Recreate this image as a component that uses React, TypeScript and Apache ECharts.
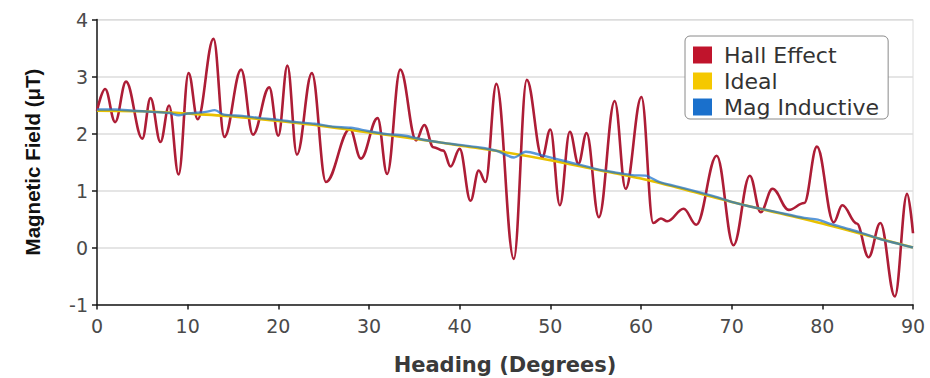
import React, { useEffect, useRef } from "react";
import * as echarts from "echarts";

const hallX = [0, 0.9, 2.0, 3.2, 5.0, 5.9, 7.0, 7.95, 9.0, 10.1, 11.1, 12.85, 14.05, 15.9, 17.2, 19.0, 20.0, 21.0, 22.05, 23.7, 25.25, 27.9, 29.1, 30.95, 32.0, 33.45, 35.2, 36.1, 37.1, 38.2, 39.0, 40.0, 41.2, 42.1, 42.85, 44.05, 45.97, 47.4, 49.1, 50.0, 51.05, 52.15, 53.1, 54.0, 55.35, 57.1, 58.3, 60.05, 61.35, 62.2, 62.9, 64.7, 66.1, 68.35, 70.2, 72.0, 73.2, 74.5, 76.3, 78.0, 79.4, 81.25, 82.2, 83.8, 85.1, 86.4, 88.0, 89.35, 90];
const hallY = [2.4, 2.78, 2.2, 2.91, 1.91, 2.62, 1.85, 2.49, 1.28, 3.06, 2.25, 3.66, 1.94, 3.12, 1.98, 2.81, 1.96, 3.19, 1.63, 3.06, 1.15, 2.08, 1.56, 2.27, 1.29, 3.12, 1.88, 2.15, 1.76, 1.7, 1.42, 1.73, 0.82, 1.35, 1.15, 2.87, -0.2, 2.94, 1.58, 2.07, 0.74, 2.03, 1.47, 2.01, 0.53, 2.57, 1.03, 2.64, 0.43, 0.51, 0.46, 0.68, 0.4, 1.61, 0.04, 1.26, 0.62, 1.03, 0.66, 0.78, 1.77, 0.44, 0.74, 0.42, -0.17, 0.43, -0.86, 0.94, 0.25];

const idealX = [0, 5, 10, 15, 20, 25, 30, 35, 40, 45, 50, 55, 60, 65, 70, 75, 80, 85, 90];
const idealY = [2.4, 2.39, 2.35, 2.3, 2.22, 2.13, 2.02, 1.91, 1.79, 1.67, 1.53, 1.37, 1.21, 1.01, 0.8, 0.61, 0.42, 0.21, 0.0];

const magX = [0, 2, 4, 6, 8, 9, 10, 12, 13, 14, 16, 18, 20, 22, 24, 26, 28, 30, 32, 34, 36, 38, 40, 42, 44, 46, 47.3, 49, 52, 55, 57, 59, 60.5, 62, 65, 68, 70, 72, 75, 78, 79.5, 81, 83, 85, 87, 88.5, 90];
const magY = [2.42, 2.42, 2.4, 2.38, 2.36, 2.32, 2.35, 2.38, 2.41, 2.33, 2.31, 2.27, 2.24, 2.2, 2.17, 2.12, 2.1, 2.04, 1.99, 1.96, 1.89, 1.84, 1.8, 1.76, 1.7, 1.58, 1.68, 1.62, 1.5, 1.38, 1.32, 1.27, 1.26, 1.15, 1.03, 0.9, 0.8, 0.72, 0.62, 0.52, 0.49, 0.41, 0.32, 0.22, 0.12, 0.06, 0.0];

const seriesNames = ["Hall Effect", "Ideal", "Mag Inductive"];
const xTitle = "Heading (Degrees)";
const yTitle = "Magnetic Field (\u03bcT)";

const pairs = (xs: number[], ys: number[]) => xs.map((x, i) => [x, ys[i]]);

export default function App() {
  const ref = useRef<HTMLDivElement>(null);
  useEffect(() => {
    if (!ref.current) return;
    const chart = echarts.init(ref.current, undefined, { renderer: "svg" });
    const tickFont = { fontFamily: "DejaVu Sans", fontSize: 19, color: "#4a4a4a" };
    chart.setOption({
      animation: false,
      backgroundColor: "#ffffff",
      grid: {
        left: 97,
        right: 17,
        top: 19.5,
        bottom: 73.5,
        containLabel: false,
        outerBoundsMode: "none",
        show: true,
        borderColor: "#dcdcdc",
        borderWidth: 1,
      },
      legend: {
        orient: "vertical",
        left: 685,
        top: 36,
        padding: [8, 9, 1, 8],
        itemGap: 4,
        itemWidth: 19,
        itemHeight: 17,
        icon: "rect",
        borderColor: "#8a8a8a",
        borderWidth: 1,
        borderRadius: 5,
        backgroundColor: "#ffffff",
        textStyle: { fontFamily: "DejaVu Sans", fontSize: 22, color: "#333333", padding: [0, 0, 0, 7] },
        data: [
          { name: seriesNames[0], itemStyle: { color: "#c0142c" } },
          { name: seriesNames[1], itemStyle: { color: "#f5c800" } },
          { name: seriesNames[2], itemStyle: { color: "#1a70cc" } },
        ],
      },
      xAxis: {
        type: "value",
        min: 0,
        max: 90,
        interval: 10,
        name: xTitle,
        nameLocation: "middle",
        nameGap: 50,
        nameTextStyle: { fontFamily: "DejaVu Sans", fontWeight: "bold", fontSize: 21, color: "#3a3a3a" },
        axisLine: { show: true, onZero: false, lineStyle: { color: "#1a1a1a", width: 1.5 } },
        axisTick: { show: true, length: 5, lineStyle: { color: "#1a1a1a", width: 1.5 } },
        axisLabel: { ...tickFont, margin: 12 },
        splitLine: { show: false },
      },
      yAxis: {
        type: "value",
        min: -1,
        max: 4,
        interval: 1,
        name: yTitle,
        nameLocation: "middle",
        nameGap: 54,
        nameTextStyle: { fontFamily: "Liberation Sans", fontWeight: "bold", fontSize: 20.5, color: "#111111" },
        axisLine: { show: true, lineStyle: { color: "#1a1a1a", width: 1.5 } },
        axisTick: { show: true, length: 5, lineStyle: { color: "#1a1a1a", width: 1.5 } },
        axisLabel: { ...tickFont, margin: 9 },
        splitLine: { show: true, lineStyle: { color: "#dcdcdc", width: 1.5 } },
      },
      series: [
        {
          name: seriesNames[0],
          type: "line",
          data: pairs(hallX, hallY),
          smooth: 0.38,
          smoothMonotone: "x",
          showSymbol: false,
          symbol: "none",
          lineStyle: { color: "#ad1d36", width: 2.6 },
          itemStyle: { color: "#c0142c" },
          z: 2,
        },
        {
          name: seriesNames[1],
          type: "line",
          data: pairs(idealX, idealY),
          smooth: 0.3,
          showSymbol: false,
          symbol: "none",
          lineStyle: { color: "#e8c000", width: 2.6 },
          itemStyle: { color: "#f5c800" },
          z: 3,
        },
        {
          name: seriesNames[2],
          type: "line",
          data: pairs(magX, magY),
          smooth: 0.3,
          showSymbol: false,
          symbol: "none",
          lineStyle: { color: "#1a70cc", width: 2.4, opacity: 0.72 },
          itemStyle: { color: "#1a70cc" },
          z: 4,
        },
      ],
    });
    return () => chart.dispose();
  }, []);
  return <div ref={ref} style={{ width: 930, height: 378, position: "absolute", left: 0, top: 0 }} />;
}
